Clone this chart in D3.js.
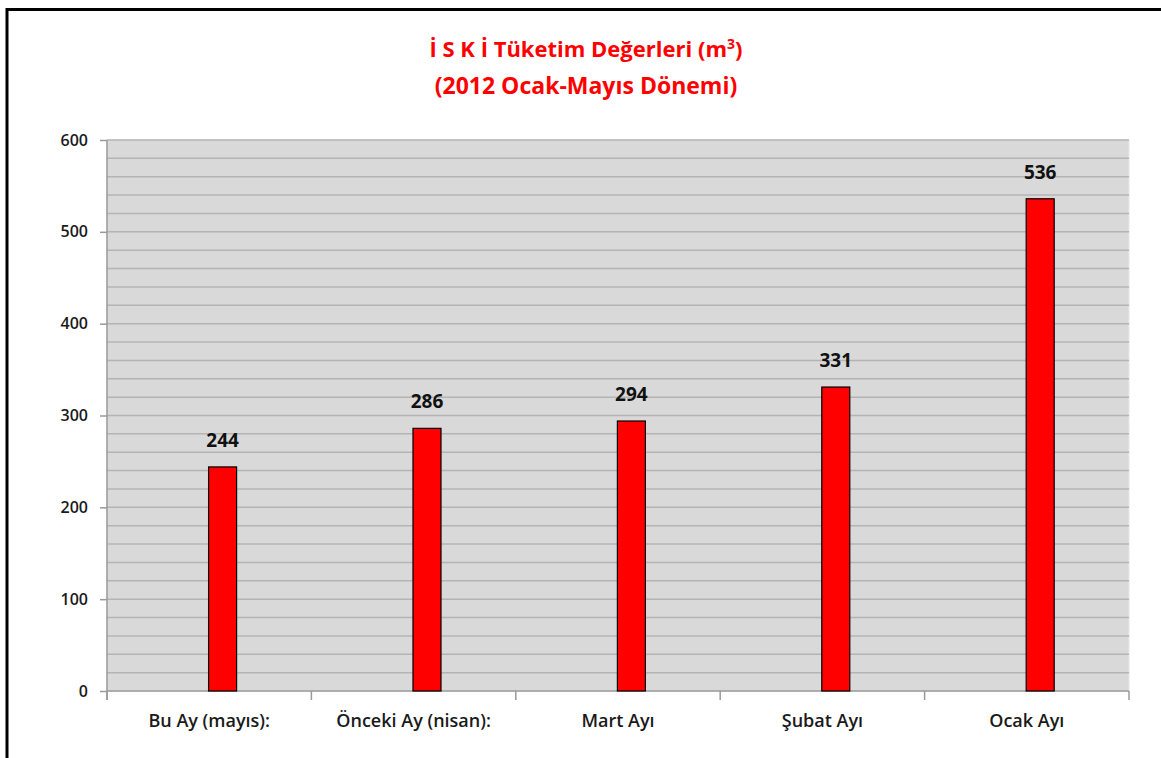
<!DOCTYPE html>
<html>
<head>
<meta charset="utf-8">
<script src="https://cdnjs.cloudflare.com/ajax/libs/d3/7.8.5/d3.min.js"></script>
<style>
    body { margin: 0; background: #fff; }
    text { font-family: 'Open Sans', sans-serif; }
</style>
</head>
<body>
<div class="main"></div>
<script>
var categories = ['Bu Ay (mayıs):', 'Önceki Ay (nisan):', 'Mart Ayı', 'Şubat Ayı', 'Ocak Ayı'];
var values = [244, 286, 294, 331, 536];
var yTicks = [0, 100, 200, 300, 400, 500, 600];
var titleLines = ['İ S K İ Tüketim Değerleri (m', '(2012 Ocak-Mayıs Dönemi)'];

var options = {
    width: 1161,
    height: 758,
    left: 107,
    right: 1129,
    top: 140,
    bottom: 691
};

var data = categories.map(function (c, i) {
    return { cat: c, value: values[i] };
});

var svg = d3.select('.main')
    .append('svg')
    .attr('width', options.width)
    .attr('height', options.height);

// outer frame
svg.append('rect')
    .attr('x', 7)
    .attr('y', 9.5)
    .attr('width', options.width + 20)
    .attr('height', options.height + 20)
    .style('fill', '#fff')
    .style('stroke', '#000')
    .style('stroke-width', '3px');

var x = d3.scaleBand()
    .domain(categories)
    .range([options.left, options.right]);

var y = d3.scaleLinear()
    .domain([0, 600])
    .range([options.bottom, options.top]);

// plot area
svg.append('rect')
    .attr('x', options.left)
    .attr('y', options.top)
    .attr('width', options.right - options.left)
    .attr('height', options.bottom - options.top)
    .style('fill', '#d9d9d9')
    .style('stroke', '#e6e6e6');

// gridlines every 20
svg.append('g')
    .selectAll('line')
    .data(d3.range(20, 601, 20))
    .enter()
    .append('line')
    .attr('x1', options.left)
    .attr('x2', options.right)
    .attr('y1', function (d) { return y(d); })
    .attr('y2', function (d) { return y(d); })
    .style('stroke', '#b4b4b4')
    .style('stroke-width', '1.5px');

// y axis
var yAxis = svg.append('g')
    .attr('transform', 'translate(' + options.left + ',0)')
    .call(d3.axisLeft(y).tickValues(yTicks).tickSize(7).tickPadding(12).tickSizeOuter(0));

yAxis.select('.domain').remove();
yAxis.append('line')
    .attr('x1', 0).attr('x2', 0)
    .attr('y1', options.top).attr('y2', options.bottom + 9)
    .style('stroke', '#9a9a9a')
    .style('stroke-width', '1.5px');
yAxis.selectAll('.tick line').style('stroke', '#9a9a9a').style('stroke-width', '1.5px');
yAxis.selectAll('.tick text')
    .style('font-family', "'Open Sans', sans-serif")
    .style('font-size', '16px')
    .style('font-weight', 600)
    .style('fill', '#1a1a1a');

// x axis
var xAxis = svg.append('g')
    .attr('transform', 'translate(0,' + options.bottom + ')');

xAxis.append('line')
    .attr('x1', options.left).attr('x2', options.right)
    .attr('y1', 0).attr('y2', 0)
    .style('stroke', '#9a9a9a')
    .style('stroke-width', '1.5px');

xAxis.selectAll('.cat-tick')
    .data(categories.concat(['end']))
    .enter()
    .append('line')
    .attr('class', 'cat-tick')
    .attr('x1', function (d) { return d === 'end' ? options.right : x(d); })
    .attr('x2', function (d) { return d === 'end' ? options.right : x(d); })
    .attr('y1', 0)
    .attr('y2', 9)
    .style('stroke', '#9a9a9a')
    .style('stroke-width', '1.5px');

xAxis.selectAll('.cat-label')
    .data(categories)
    .enter()
    .append('text')
    .attr('class', 'cat-label')
    .text(function (d) { return d; })
    .attr('x', function (d) { return x(d) + x.bandwidth() / 2; })
    .attr('y', 36)
    .attr('text-anchor', 'middle')
    .style('font-size', '18px')
    .style('font-weight', 600)
    .style('fill', '#1a1a1a');

// bars
var bw = x.bandwidth();
var bars = svg.selectAll('.bar')
    .data(data)
    .enter()
    .append('g')
    .attr('class', 'bar');

bars.append('rect')
    .attr('x', function (d) { return x(d.cat) + bw * 0.497; })
    .attr('y', function (d) { return y(d.value); })
    .attr('width', bw * 0.137)
    .attr('height', function (d) { return y(0) - y(d.value); })
    .style('fill', '#ff0000')
    .style('stroke', '#000')
    .style('stroke-width', '1.2px');

bars.append('text')
    .text(function (d) { return d.value; })
    .attr('x', function (d) { return x(d.cat) + bw * 0.497 + bw * 0.137 / 2; })
    .attr('y', function (d) { return y(d.value) - 20; })
    .attr('text-anchor', 'middle')
    .style('font-size', '19px')
    .style('font-weight', 700)
    .style('fill', '#111');

// title
var title = svg.append('text')
    .attr('x', 586)
    .attr('y', 57)
    .attr('text-anchor', 'middle')
    .style('font-size', '22px')
    .style('font-weight', 700)
    .style('fill', '#ff0000');

title.append('tspan').text(titleLines[0]);
title.append('tspan').text('3').attr('dy', -8).style('font-size', '14px');
title.append('tspan').text(')').attr('dy', 8);

svg.append('text')
    .text(titleLines[1])
    .attr('x', 586)
    .attr('y', 94)
    .attr('text-anchor', 'middle')
    .style('font-size', '23px')
    .style('font-weight', 700)
    .style('fill', '#ff0000');
</script>
</body>
</html>
